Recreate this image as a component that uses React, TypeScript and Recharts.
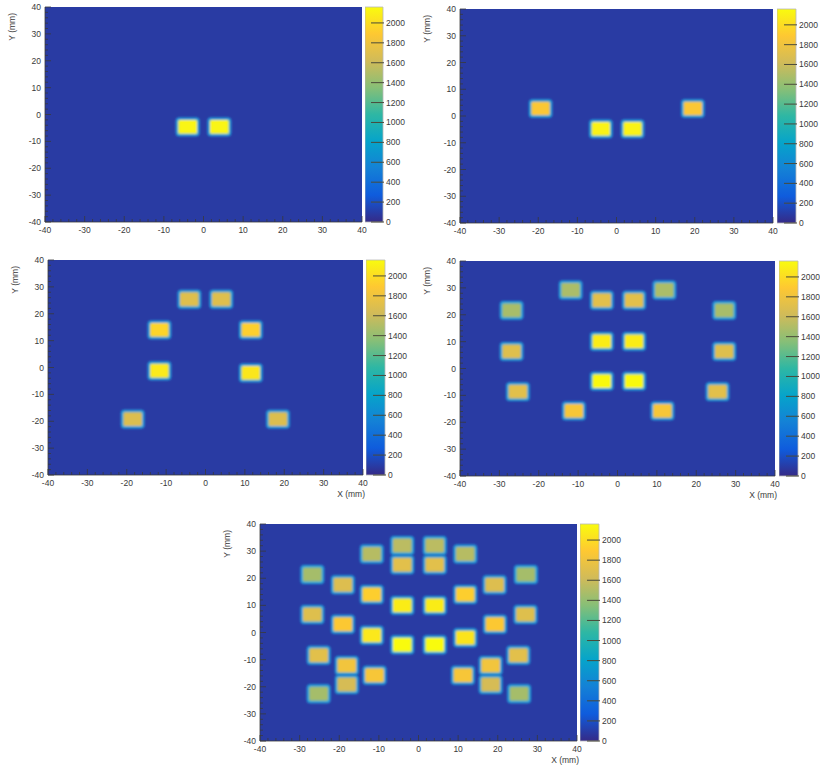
import React from 'react';
import { ScatterChart, Scatter, XAxis, YAxis, CartesianGrid, BarChart, Bar, Label } from 'recharts';

// hit blocks per layer: [x (mm), y (mm), counts]
const layer1: [number, number, number][] = [
  [-4, -4.6, 2130], [4, -4.6, 2130],
];

const layer2: [number, number, number][] = [
  [-19.4, 2.8, 1870], [-4, -4.8, 2120], [4.1, -4.8, 2120], [19.5, 2.8, 1870],
];

const layer3: [number, number, number][] = [
  [-4.1, 25.4, 1700], [4, 25.4, 1700],
  [-11.7, 14, 1960], [11.5, 14, 1930],
  [-11.7, -1.2, 2070], [11.5, -2, 2050],
  [-18.5, -19.2, 1680], [18.4, -19.2, 1680],
];

const layer4: [number, number, number][] = [
  [-11.9, 29.2, 1480], [11.9, 29.2, 1480],
  [-4, 25.4, 1720], [4.2, 25.4, 1720],
  [-26.9, 21.6, 1470], [27.1, 21.6, 1470],
  [-4, 10.1, 2080], [4.2, 10.1, 2080],
  [-26.9, 6.4, 1700], [27.1, 6.4, 1700],
  [-4, -4.7, 2150], [4.2, -4.7, 2150],
  [-25.3, -8.6, 1720], [25.4, -8.6, 1720],
  [-11.1, -15.8, 1840], [11.4, -15.8, 1840],
];

const layer5: [number, number, number][] = [
  [-4.1, 32.1, 1540], [4.1, 32.1, 1540],
  [-4.1, 25, 1720], [4.1, 25, 1720],
  [-11.8, 28.9, 1520], [11.8, 28.9, 1520],
  [-26.8, 21.4, 1460], [27.1, 21.4, 1460],
  [-19.1, 17.6, 1690], [19.2, 17.6, 1690],
  [-11.8, 14, 1920], [11.8, 14, 1920],
  [-4.1, 10, 2080], [4.1, 10, 2080],
  [-26.8, 6.6, 1700], [27, 6.6, 1700],
  [-19.1, 3, 1880], [19.3, 3, 1880],
  [-11.8, -1, 2060], [11.8, -1.9, 2040],
  [-4.1, -4.5, 2160], [4.1, -4.5, 2160],
  [-25.2, -8.4, 1720], [25.2, -8.4, 1720],
  [-18.1, -12.2, 1820], [18.2, -12.2, 1820],
  [-11.1, -15.8, 1850], [11.2, -15.8, 1850],
  [-18.1, -19.2, 1650], [18.2, -19.2, 1650],
  [-25.2, -22.6, 1460], [25.4, -22.6, 1460],
];

const mmTicks = [-40, -38, -36, -34, -32, -30, -28, -26, -24, -22, -20, -18, -16, -14, -12, -10, -8, -6, -4, -2, 0,
  2, 4, 6, 8, 10, 12, 14, 16, 18, 20, 22, 24, 26, 28, 30, 32, 34, 36, 38, 40];
const countTicks = [0, 200, 400, 600, 800, 1000, 1200, 1400, 1600, 1800, 2000];
const countMax = 2160;

const FONT = '"Liberation Sans", Arial, sans-serif';
const INK = '#3a3a3a';
const BG = '#293ba3';
const BLOCK_W = 6;
const BLOCK_H = 7;

// ROOT kBird palette
const bird = [
  [0, 53, 42, 135], [0.125, 15, 92, 221], [0.25, 20, 129, 214], [0.375, 6, 164, 202],
  [0.5, 46, 183, 164], [0.625, 135, 191, 119], [0.75, 209, 187, 89], [0.875, 254, 200, 50],
  [1, 249, 251, 14],
];

function birdColor(n: number) {
  const t = Math.max(0, Math.min(1, n / countMax));
  for (let i = 1; i < bird.length; i++) {
    if (t <= bird[i][0]) {
      const a = bird[i - 1], b = bird[i];
      const f = (t - a[0]) / (b[0] - a[0]);
      const c = [1, 2, 3].map(k => Math.round(a[k] + (b[k] - a[k]) * f));
      return `rgb(${c[0]},${c[1]},${c[2]})`;
    }
  }
  return 'rgb(249,251,14)';
}

const XTick = (props: any) => {
  const { x, y, payload } = props;
  const major = payload.value % 10 === 0;
  return (
    <g>
      <line x1={x} x2={x} y1={y} y2={y - (major ? 6 : 3)} stroke={INK} strokeWidth={0.8} />
      {major && (
        <text x={x} y={y + 11} textAnchor="middle" fontSize={8.5} fill={INK} fontFamily={FONT}>
          {payload.value}
        </text>
      )}
    </g>
  );
};

const YTick = (props: any) => {
  const { x, y, payload } = props;
  const major = payload.value % 10 === 0;
  return (
    <g>
      <line x1={x} x2={x + (major ? 6 : 3)} y1={y} y2={y} stroke={INK} strokeWidth={0.8} />
      {major && (
        <text x={x - 4} y={y + 3} textAnchor="end" fontSize={8.5} fill={INK} fontFamily={FONT}>
          {payload.value}
        </text>
      )}
    </g>
  );
};

const ZTick = (props: any) => {
  const { x, y, payload } = props;
  return (
    <g>
      <line x1={x - 12} x2={x + 1} y1={y} y2={y} stroke="#4a4a3a" strokeWidth={1} />
      <text x={x + 3} y={y + 3} textAnchor="start" fontSize={8.5} fill={INK} fontFamily={FONT}>
        {payload.value}
      </text>
    </g>
  );
};

type PanelProps = {
  blocks: [number, number, number][];
  left: number;
  top: number;
  w: number;
  h: number;
  barX: number;
  barW: number;
  xTitle: boolean;
};

const AX_W = 30;
const AX_H = 20;

function HitMap({ blocks, left, top, w, h, barX, barW, xTitle }: PanelProps) {
  const mL = 42, mT = 6, mR = 6, mB = 24;
  const sx = w / 80, sy = h / 80;
  const pts = blocks.map(([x, y, n]) => ({ x, y, n }));

  const blockShape = (props: any) => {
    const { cx, cy, payload } = props;
    const bw = BLOCK_W * sx, bh = BLOCK_H * sy;
    return (
      <g filter="url(#soft)">
        <rect x={cx - bw / 2} y={cy - bh / 2} width={bw} height={bh} rx={3.5} fill="#22a0dc" />
        <rect x={cx - bw / 2 + 2.5} y={cy - bh / 2 + 2.5} width={bw - 5} height={bh - 5} rx={1.5}
          fill={birdColor(payload.n)} />
      </g>
    );
  };

  const yTitle = (p: any) => {
    const vb = p.viewBox;
    const x0 = vb.x + vb.width;
    return (
      <text transform={`translate(${x0 - 30},${vb.y + 6}) rotate(-90)`} textAnchor="end"
        fontSize={8.5} fill={INK} fontFamily={FONT}>Y (mm)</text>
    );
  };

  const xLabel = (p: any) => {
    const vb = p.viewBox;
    return (
      <text x={vb.x + vb.width + 2} y={vb.y + 21.5} textAnchor="end" fontSize={8.5} fill={INK} fontFamily={FONT}>
        X (mm)
      </text>
    );
  };

  return (
    <>
      <div style={{ position: 'absolute', left: left - mL, top: top - mT }}>
        <ScatterChart width={w + mL + mR} height={h + mT + mB}
          margin={{ top: mT, left: mL - AX_W, right: mR, bottom: mB - AX_H }}>
          <CartesianGrid horizontal={false} vertical={false} fill={BG} fillOpacity={1} />
          <XAxis type="number" dataKey="x" domain={[-40, 40]} ticks={mmTicks} interval={0} height={AX_H}
            tickSize={0} tickMargin={0} tick={<XTick />} tickLine={false} axisLine={{ stroke: INK, strokeWidth: 0.8 }}>
            {xTitle && <Label content={xLabel} />}
          </XAxis>
          <YAxis type="number" dataKey="y" domain={[-40, 40]} ticks={mmTicks} interval={0} width={AX_W}
            tickSize={0} tickMargin={0} tick={<YTick />} tickLine={false} axisLine={{ stroke: INK, strokeWidth: 0.8 }}>
            <Label content={yTitle} />
          </YAxis>
          <Scatter data={pts} shape={blockShape} isAnimationActive={false} />
        </ScatterChart>
      </div>
      <div style={{ position: 'absolute', left: barX, top: top - mT }}>
        <BarChart width={barW + 34} height={h + mT + mB} data={[{ k: 'z', top: countMax }]}
          margin={{ top: mT, left: 0, right: 34 - AX_W, bottom: mB }} barCategoryGap={0}>
          <XAxis dataKey="k" hide />
          <YAxis orientation="right" type="number" domain={[0, countMax]} ticks={countTicks} interval={0}
            width={AX_W} tickSize={0} tickMargin={0} tick={<ZTick />} tickLine={false} axisLine={false} />
          <Bar dataKey="top" fill="url(#bird)" stroke="#b8b8b8" strokeWidth={0.8} isAnimationActive={false} />
        </BarChart>
      </div>
    </>
  );
}

const panels: PanelProps[] = [
  { blocks: layer1, left: 45, top: 7, w: 317, h: 215, barX: 365, barW: 18, xTitle: false },
  { blocks: layer2, left: 460, top: 9, w: 313, h: 214, barX: 777, barW: 19, xTitle: false },
  { blocks: layer3, left: 48, top: 260, w: 315, h: 215, barX: 366, barW: 19, xTitle: true },
  { blocks: layer4, left: 460, top: 261, w: 315, h: 215, barX: 779, barW: 19, xTitle: true },
  { blocks: layer5, left: 260, top: 524, w: 317, h: 217, barX: 580, barW: 19, xTitle: true },
];

export default function App() {
  return (
    <div style={{ position: 'absolute', left: 0, top: 0, width: 820, height: 765, background: '#fff', fontFamily: FONT }}>
      <svg width={0} height={0} style={{ position: 'absolute' }}>
        <defs>
          <linearGradient id="bird" x1="0" y1="1" x2="0" y2="0">
            {bird.map(s => (
              <stop key={s[0]} offset={s[0]} stopColor={`rgb(${s[1]},${s[2]},${s[3]})`} />
            ))}
          </linearGradient>
          <filter id="soft" x="-20%" y="-20%" width="140%" height="140%">
            <feGaussianBlur stdDeviation={0.9} />
          </filter>
        </defs>
      </svg>
      {panels.map((p, i) => <HitMap key={i} {...p} />)}
    </div>
  );
}
